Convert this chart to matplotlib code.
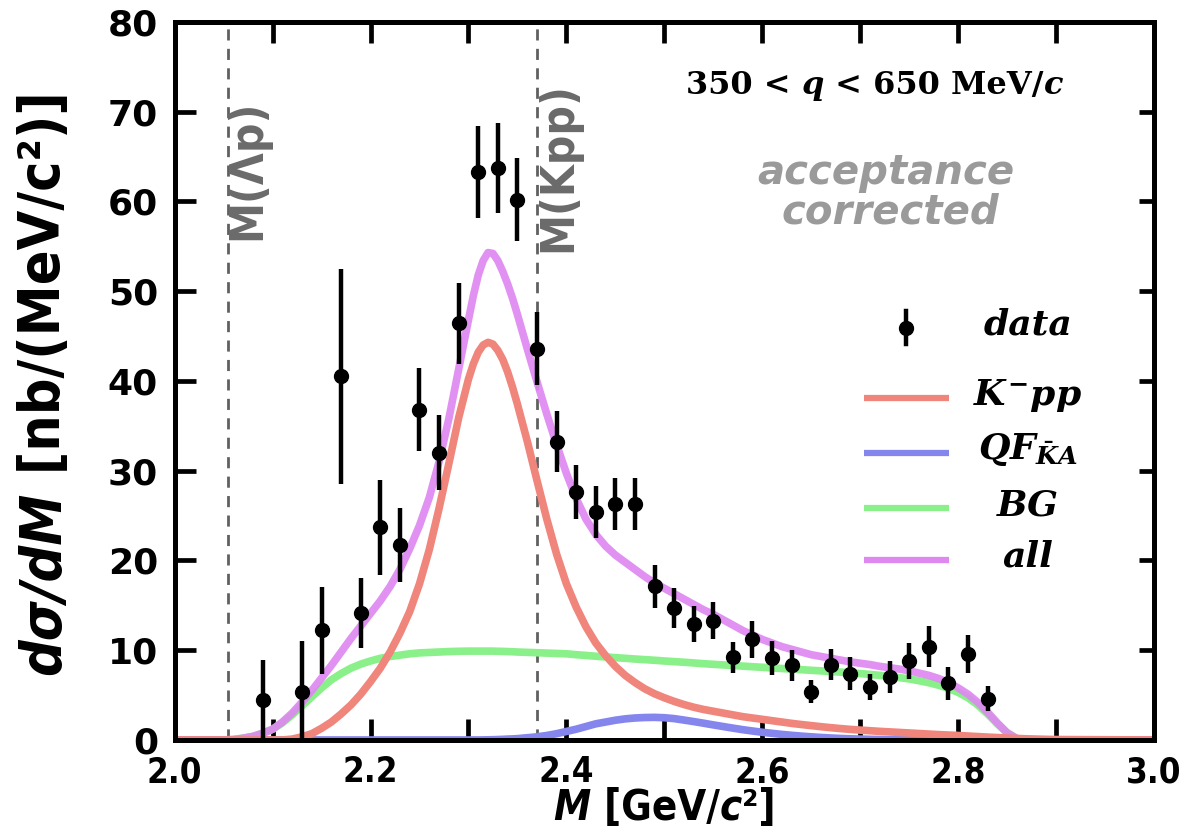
import numpy as np
import matplotlib
matplotlib.use('Agg')
import matplotlib.pyplot as plt
from matplotlib import font_manager
from matplotlib.offsetbox import TextArea, HPacker, AnchoredOffsetbox
from matplotlib.lines import Line2D
from matplotlib.ticker import MultipleLocator

# ---------------- data ----------------
M_data = [2.09, 2.13, 2.15, 2.17, 2.19, 2.21, 2.23, 2.25, 2.27, 2.29, 2.31, 2.33, 2.35,
          2.37, 2.39, 2.41, 2.43, 2.45, 2.47, 2.49, 2.51, 2.53, 2.55, 2.57, 2.59, 2.61,
          2.63, 2.65, 2.67, 2.69, 2.71, 2.73, 2.75, 2.77, 2.79, 2.81, 2.83]
y_data = [4.5, 5.4, 12.2, 40.5, 14.2, 23.7, 21.7, 36.8, 32.0, 46.4, 63.3, 63.7, 60.2,
          43.6, 33.2, 27.6, 25.4, 26.3, 26.3, 17.1, 14.7, 12.9, 13.3, 9.2, 11.2, 9.1,
          8.3, 5.4, 8.4, 7.4, 5.9, 7.0, 8.8, 10.4, 6.3, 9.6, 4.6]
y_err = [4.4, 5.6, 4.8, 12.0, 3.9, 5.3, 4.1, 4.6, 4.2, 4.5, 5.1, 5.0, 4.6,
         4.1, 3.4, 3.0, 2.9, 2.9, 2.9, 2.4, 2.2, 2.0, 2.1, 1.7, 2.1, 1.9,
         1.7, 1.3, 1.7, 1.8, 1.5, 1.8, 2.0, 2.3, 1.8, 2.1, 1.4]

M_curve = [2.00, 2.05, 2.06, 2.07, 2.08, 2.09, 2.10, 2.11, 2.12, 2.13, 2.14, 2.15, 2.16,
           2.17, 2.18, 2.19, 2.20, 2.21, 2.22, 2.23, 2.24, 2.25, 2.26, 2.27, 2.28, 2.29,
           2.30, 2.305, 2.31, 2.315, 2.32, 2.325, 2.33, 2.335, 2.34, 2.345, 2.35,
           2.36, 2.37, 2.38, 2.39, 2.40, 2.41, 2.42, 2.43, 2.44, 2.45, 2.46, 2.47,
           2.48, 2.49, 2.50, 2.51, 2.52, 2.53, 2.54, 2.55, 2.56, 2.57, 2.58, 2.59,
           2.60, 2.61, 2.62, 2.63, 2.64, 2.65, 2.66, 2.67, 2.68, 2.69, 2.70, 2.71,
           2.72, 2.73, 2.74, 2.75, 2.76, 2.77, 2.78, 2.79, 2.80, 2.81, 2.82, 2.83,
           2.84, 2.85, 2.86, 2.87, 2.88, 2.89, 2.90, 3.00]
kpp = [0, 0, 0, 0, 0, 0, 0, 0, 0.1, 0.35, 0.7, 1.3, 2.0,
       2.9, 3.9, 5.1, 6.5, 8.0, 9.8, 11.9, 14.3, 17.4, 21.2, 25.8, 30.8, 35.9,
       40.2, 41.9, 43.2, 44.0, 44.3, 44.1, 43.4, 42.4, 41.0, 39.3, 37.4,
       33.3, 28.9, 24.6, 20.7, 17.4, 14.8, 12.6, 10.8, 9.4, 8.2, 7.2, 6.4,
       5.7, 5.15, 4.7, 4.3, 3.95, 3.65, 3.4, 3.2, 3.0, 2.8, 2.6, 2.45,
       2.3, 2.15, 2.0, 1.85, 1.72, 1.6, 1.48, 1.37, 1.27, 1.18, 1.1, 1.03,
       0.96, 0.9, 0.84, 0.78, 0.72, 0.66, 0.6, 0.55, 0.5, 0.44, 0.38, 0.32,
       0.27, 0.22, 0.17, 0.13, 0.1, 0.07, 0.05, 0]
qf = [0, 0, 0, 0, 0, 0, 0, 0, 0, 0, 0, 0, 0,
      0, 0, 0, 0, 0, 0, 0, 0, 0, 0, 0, 0, 0,
      0, 0, 0, 0.01, 0.02, 0.03, 0.05, 0.07, 0.1, 0.12, 0.15,
      0.25, 0.35, 0.5, 0.7, 0.95, 1.2, 1.5, 1.8, 2.0, 2.2, 2.35, 2.45,
      2.5, 2.52, 2.48, 2.38, 2.22, 2.05, 1.87, 1.68, 1.5, 1.32, 1.15, 1.0,
      0.86, 0.74, 0.62, 0.52, 0.43, 0.35, 0.28, 0.22, 0.17, 0.13, 0.1, 0.07,
      0.05, 0.03, 0.02, 0.01, 0, 0, 0, 0, 0, 0, 0, 0,
      0, 0, 0, 0, 0, 0, 0, 0]
bg = [0, 0, 0.05, 0.2, 0.4, 0.75, 1.2, 1.9, 2.8, 3.8, 4.8, 5.8, 6.7,
      7.4, 8.0, 8.45, 8.8, 9.1, 9.3, 9.45, 9.6, 9.7, 9.75, 9.8, 9.85, 9.88,
      9.9, 9.9, 9.9, 9.9, 9.9, 9.9, 9.88, 9.87, 9.85, 9.83, 9.8,
      9.76, 9.72, 9.68, 9.64, 9.6, 9.5, 9.42, 9.33, 9.25, 9.17, 9.1, 9.02,
      8.95, 8.88, 8.8, 8.73, 8.66, 8.58, 8.5, 8.43, 8.36, 8.3, 8.23, 8.16,
      8.1, 8.03, 7.96, 7.9, 7.83, 7.76, 7.7, 7.63, 7.56, 7.48, 7.4, 7.3,
      7.2, 7.1, 6.95, 6.8, 6.6, 6.38, 6.1, 5.75, 5.3, 4.7, 3.9, 2.9,
      1.8, 0.8, 0.15, 0.02, 0, 0, 0, 0]
total = [0, 0, 0.05, 0.2, 0.4, 0.75, 1.2, 2.0, 3.0, 4.2, 5.5, 6.9, 8.3,
         9.8, 11.3, 12.7, 14.1, 15.5, 17.1, 19.0, 21.3, 23.9, 27.0, 31.0, 35.8, 41.3,
         46.8, 49.5, 51.8, 53.4, 54.3, 54.2, 53.4, 52.2, 50.8, 49.2, 47.4,
         43.6, 39.9, 36.3, 32.9, 29.7, 26.9, 24.6, 22.9, 21.6, 20.6, 19.8, 19.0,
         18.2, 17.5, 16.9, 16.3, 15.7, 15.1, 14.5, 14.0, 13.4, 12.8, 12.2, 11.7,
         11.2, 10.8, 10.4, 10.1, 9.8, 9.5, 9.3, 9.1, 8.9, 8.7, 8.55, 8.4,
         8.2, 8.05, 7.9, 7.7, 7.45, 7.2, 6.85, 6.4, 5.8, 5.1, 4.2, 3.1,
         1.9, 0.8, 0.15, 0.02, 0, 0, 0, 0]

M_LAMBDA_P = 2.054   # Lambda + p threshold
M_KPP = 2.370        # K- + p + p threshold

x_ticks = [2.0, 2.2, 2.4, 2.6, 2.8, 3.0]
x_ticklabels = ['2.0', '2.2', '2.4', '2.6', '2.8', '3.0']
y_ticks = [0, 10, 20, 30, 40, 50, 60, 70, 80]

# ---------------- fonts ----------------
available = {f.name for f in font_manager.fontManager.ttflist}
def pick(*names):
    for n in names:
        if n in available:
            return n
    return 'DejaVu Sans'

NARROW = pick('Liberation Sans Narrow', 'DejaVu Sans')
HAS_NARROW = NARROW == 'Liberation Sans Narrow'

plt.rcParams['mathtext.fontset'] = 'custom'
plt.rcParams['mathtext.it'] = 'DejaVu Serif:italic:bold'
plt.rcParams['mathtext.rm'] = 'DejaVu Serif:bold'
plt.rcParams['mathtext.bf'] = 'DejaVu Serif:bold'

# ---------------- figure ----------------
fig = plt.figure(figsize=(11.8, 8.35), dpi=100)
ax = fig.add_axes([0.148, 0.1138, 0.830, 0.860])

c_red = '#f0857c'
c_blue = '#8585ee'
c_green = '#8af08a'
c_purple = '#de88f0'
lw_c = 5.5

ax.axvline(M_LAMBDA_P, color='#606060', lw=2.0, ls=(0, (4, 3)), zorder=1)
ax.axvline(M_KPP, color='#606060', lw=2.0, ls=(0, (4, 3)), zorder=1)

ax.plot(M_curve, bg, color=c_green, lw=lw_c, zorder=2, solid_joinstyle='round')
ax.plot(M_curve, qf, color=c_blue, lw=lw_c, zorder=2, solid_joinstyle='round')
ax.plot(M_curve, kpp, color=c_red, lw=lw_c, zorder=2.2, solid_joinstyle='round')
ax.plot(M_curve, total, color=c_purple, lw=lw_c, zorder=2.1, alpha=0.92,
        solid_joinstyle='round')
ax.axhline(0, xmin=0.008, xmax=0.992, color='#8b0a0a', lw=3.5, zorder=2.5)

ax.errorbar(M_data, y_data, yerr=y_err, fmt='o', color='black', ms=10,
            elinewidth=3.2, capsize=0, zorder=4)

ax.set_xlim(2.0, 3.0)
ax.set_ylim(0, 80)
ax.set_xticks(x_ticks)
ax.set_xticklabels(x_ticklabels)
ax.xaxis.set_minor_locator(MultipleLocator(0.1))
ax.set_yticks(y_ticks)

for sp in ax.spines.values():
    sp.set_linewidth(3.6)
    sp.set_zorder(5)

ax.tick_params(axis='x', which='both', direction='in', length=15, width=3.4,
               top=True, bottom=True, pad=11)
ax.tick_params(axis='y', which='major', direction='in', length=15, width=3.4,
               left=True, right=False, pad=12)
if HAS_NARROW:
    xfp = dict(family=NARROW, weight='bold', size=30)
else:
    xfp = dict(family='DejaVu Sans', weight='bold', size=25, stretch='condensed')
for lab in ax.get_xticklabels():
    lab.set_fontproperties(font_manager.FontProperties(**xfp))
for lab in ax.get_yticklabels():
    lab.set_fontproperties(font_manager.FontProperties(family='DejaVu Sans',
                                                       weight='bold', size=26))

# right side short ticks
for yv in y_ticks[1:-1]:
    ax.plot([0.985, 1.0], [yv / 80, yv / 80], transform=ax.transAxes,
            color='black', lw=3.4, solid_capstyle='butt', clip_on=False, zorder=5)

# ---------------- threshold labels ----------------
rot_font = dict(family=[NARROW, 'DejaVu Sans'], weight='bold', size=33,
                stretch='condensed', color='#6a6a6a')
ax.text(M_LAMBDA_P + 0.021, 63.5, 'M(Λp)', rotation=90, ha='center', va='center',
        **rot_font)
ax.text(M_KPP + 0.022, 63.8, 'M(Kpp)', rotation=90, ha='center', va='center',
        **rot_font)

# ---------------- top-right annotations ----------------
serif = dict(family='DejaVu Serif', weight='bold', size=23, color='black')
parts = [('350 < ', 'normal'), ('q', 'italic'), (' < 650 MeV/', 'normal'),
         ('c', 'italic')]
box = HPacker(children=[TextArea(s, textprops=dict(style=st, **serif))
                        for s, st in parts], align='baseline', pad=0, sep=0)
ax.add_artist(AnchoredOffsetbox(loc='center', child=box, frameon=False, pad=0,
                                borderpad=0, bbox_to_anchor=(0.715, 0.912),
                                bbox_transform=ax.transAxes))

acc = dict(family='DejaVu Sans', weight='bold', style='italic', size=29,
           color='#9a9a9a', ha='center', va='center', transform=ax.transAxes)
ax.text(0.726, 0.789, 'acceptance', **acc)
ax.text(0.731, 0.734, 'corrected', **acc)

# ---------------- legend (manual) ----------------
leg_font = dict(family='DejaVu Serif', weight='bold', style='italic', size=26,
                ha='center', va='center', transform=ax.transAxes)
lx0, lx1, tx = 0.704, 0.791, 0.871
ax.add_line(Line2D([0.747, 0.747], [0.552, 0.597], transform=ax.transAxes,
                   color='black', lw=3.2, clip_on=False, zorder=6))
ax.add_line(Line2D([0.747], [0.574], transform=ax.transAxes, marker='o', ms=10,
                   color='black', clip_on=False, zorder=6))
ax.text(tx, 0.578, 'data', **leg_font)
rows = [(c_red, r'$K^{-}pp$', 0.476), (c_blue, r'$QF_{\bar{K}A}$', 0.400),
        (c_green, 'BG', 0.323), (c_purple, 'all', 0.251)]
for col, lab, yy in rows:
    ax.add_line(Line2D([lx0, lx1], [yy, yy], transform=ax.transAxes, color=col,
                       lw=4.5, solid_capstyle='butt', clip_on=False, zorder=6))
    ax.text(tx, yy + 0.004, lab, **leg_font)

# ---------------- axis labels (mixed styles) ----------------
lab_font = dict(family=[NARROW, 'DejaVu Sans'], weight='bold', size=30,
                stretch='condensed', color='black')
x1 = ax.text(0.4, -0.112, 'M', transform=ax.transAxes, style='italic',
             ha='left', va='baseline', **lab_font)
x2 = ax.annotate(' [GeV/', xy=(1, 0), xycoords=x1, va='bottom', ha='left', **lab_font)
x3 = ax.annotate('c', xy=(1, 0), xycoords=x2, va='bottom', ha='left', style='italic',
                 **lab_font)
x4 = ax.annotate('²]', xy=(1, 0), xycoords=x3, va='bottom', ha='left', **lab_font)

ylab_font = dict(family=[NARROW, 'DejaVu Sans'], weight='bold', size=41,
                 stretch='condensed', color='black')
y1 = ax.text(-0.133, 0.07, 'dσ/dM', transform=ax.transAxes, style='italic',
             rotation=90, ha='center', va='bottom', **ylab_font)
y2 = ax.annotate(' [nb/(MeV/c²)]', xy=(0.5, 1), xycoords=y1, rotation=90,
                 ha='center', va='bottom', **ylab_font)

# centre the composed labels
fig.canvas.draw()
r = fig.canvas.get_renderer()
bx = [t.get_window_extent(r) for t in (x1, x2, x3, x4)]
left, right = bx[0].x0, bx[-1].x1
ax_bb = ax.get_window_extent(r)
shift = (ax_bb.x0 + ax_bb.x1) / 2 - (left + right) / 2
x1.set_x(x1.get_position()[0] + shift / ax_bb.width)
by = [t.get_window_extent(r) for t in (y1, y2)]
ycen_target = 835 - 383
shift_y = ycen_target - (by[0].y0 + by[-1].y1) / 2
y1.set_y(y1.get_position()[1] + shift_y / ax_bb.height)

fig.savefig('out.png', dpi=100)
